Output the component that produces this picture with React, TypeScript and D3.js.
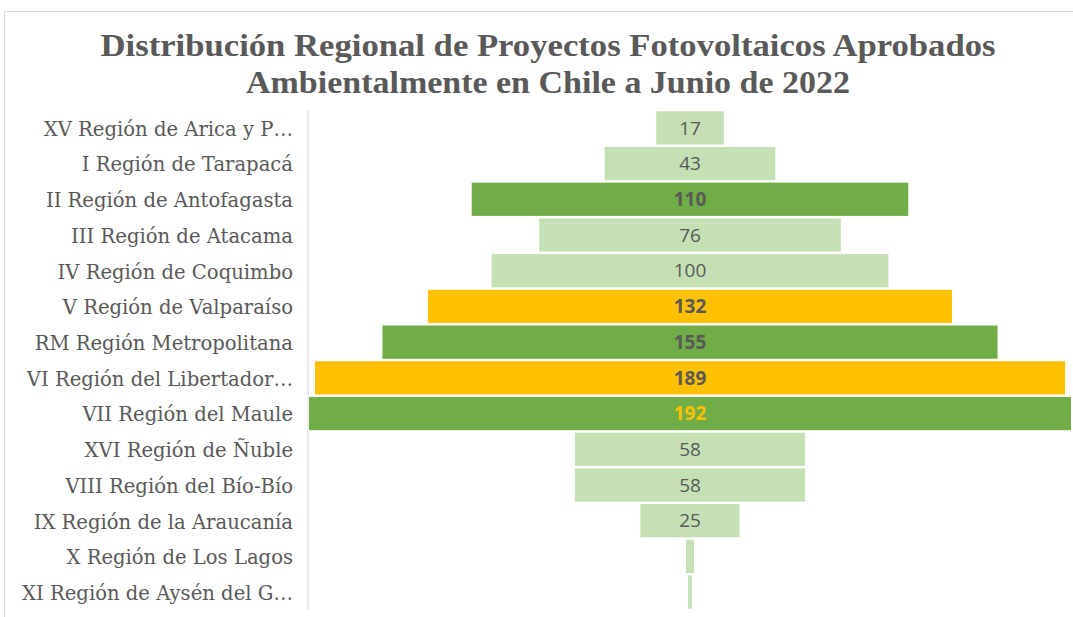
import React from 'react';
import * as d3 from 'd3';

const regions = [
  'XV Región de Arica y P…',
  'I Región de Tarapacá',
  'II Región de Antofagasta',
  'III Región de Atacama',
  'IV Región de Coquimbo',
  'V Región de Valparaíso',
  'RM Región Metropolitana',
  'VI Región del Libertador…',
  'VII Región del Maule',
  'XVI Región de Ñuble',
  'VIII Región del Bío-Bío',
  'IX Región de la Araucanía',
  'X Región de Los Lagos',
  'XI Región de Aysén del G…',
];
const projects = [17, 43, 110, 76, 100, 132, 155, 189, 192, 58, 58, 25, 2, 1];
// 0 = light green, 1 = green, 2 = gold
const colorGroup = [0, 0, 1, 0, 0, 2, 1, 2, 1, 0, 0, 0, 0, 0];

const fills = ['#C5E0B4', '#70AD47', '#FFC000'];

export default function App() {
  const W = 1073, H = 617;
  const axisX = 308;
  const center = 690;
  const top = 110, bottom = 610;

  const y = d3.scaleBand<string>()
    .domain(regions)
    .range([top, bottom])
    .paddingInner(0.07)
    .paddingOuter(0.035);

  const w = d3.scaleLinear()
    .domain([0, d3.max(projects) as number])
    .range([0, 762]);

  return (
    <svg width={W} height={H} style={{ position: 'absolute', left: 0, top: 0 }}>
      <rect x={0} y={0} width={W} height={H} fill="#fff" />
      <path d={`M4.5,${H} V11.5 H${W}`} fill="none" stroke="#D9D9D9" strokeWidth={1} />
      <text x={548} y={56} textAnchor="middle" fontFamily="Liberation Serif" fontWeight="bold"
        fontSize={31} fill="#595959" textLength={895} lengthAdjust="spacingAndGlyphs">
        Distribución Regional de Proyectos Fotovoltaicos Aprobados
      </text>
      <text x={548} y={93} textAnchor="middle" fontFamily="Liberation Serif" fontWeight="bold"
        fontSize={31} fill="#595959" textLength={604} lengthAdjust="spacingAndGlyphs">
        Ambientalmente en Chile a Junio de 2022
      </text>

      {regions.map((r, i) => {
        const v = projects[i];
        const bw = w(v);
        const yy = y(r) as number;
        const g = colorGroup[i];
        const big = v === d3.max(projects);
        return (
          <g key={r}>
            <rect x={center - bw / 2} y={yy} width={bw} height={y.bandwidth()} fill={fills[g]} />
            <text x={293} y={yy + y.bandwidth() / 2 + 1} dy="0.35em" textAnchor="end"
              fontFamily="DejaVu Serif" fontSize={19.6} fill="#595959">{r}</text>
            {v >= 5 && (
              <text x={center} y={yy + y.bandwidth() / 2} dy="0.35em" textAnchor="middle"
                fontFamily="Open Sans" fontSize={19} fontWeight={g === 0 ? 'normal' : 'bold'}
                fill={big ? '#FFC000' : '#595959'}>{v}</text>
            )}
          </g>
        );
      })}
      <line x1={axisX} x2={axisX} y1={top} y2={bottom} stroke="#D9D9D9" strokeWidth={1} />
    </svg>
  );
}
